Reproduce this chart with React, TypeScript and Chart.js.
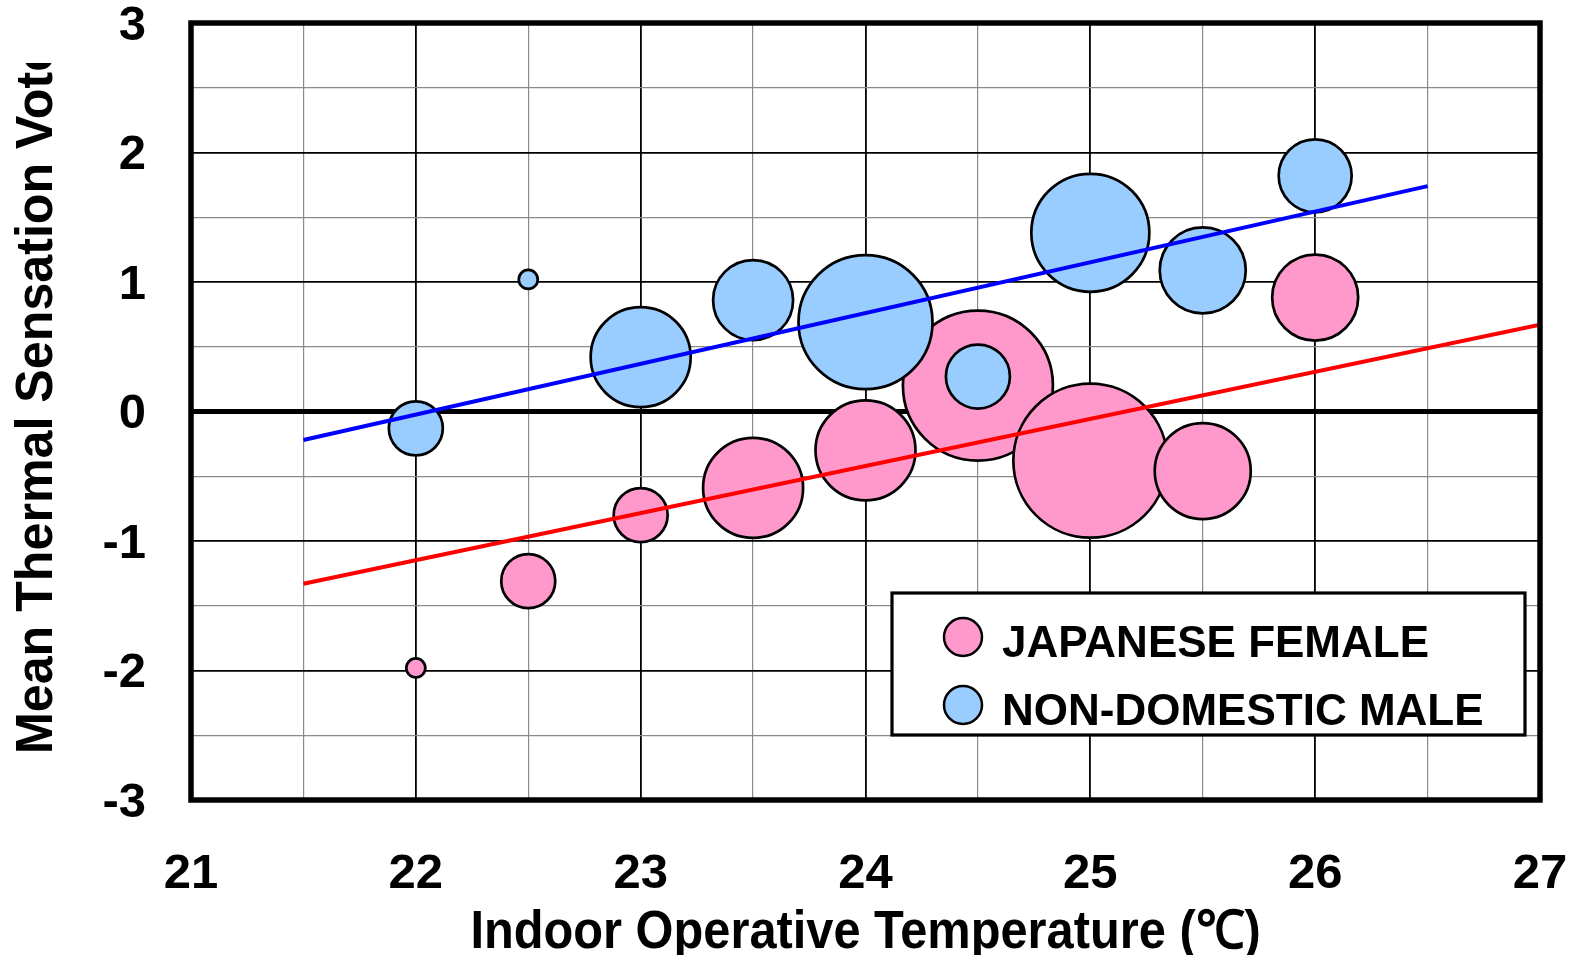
import React, { useEffect, useRef } from 'react';
import { Chart, registerables } from 'chart.js';

Chart.register(...registerables);

// ---- data ----
const temps = [22, 22.5, 23, 23.5, 24, 24.5, 25, 25.5, 26];
const femaleVote = [-1.98, -1.31, -0.8, -0.59, -0.3, 0.2, -0.38, -0.46, 0.88];
const femaleBubble = [9.5, 27, 27, 50, 50, 75, 77, 48, 43];
const maleVote = [-0.13, 1.02, 0.42, 0.86, 0.69, 0.27, 1.38, 1.09, 1.82];
const maleBubble = [27, 9.5, 50, 40, 67, 32, 59, 43, 36.5];

const femaleFitX = [21.5, 27];
const femaleFitY = [-1.33, 0.67];
const maleFitX = [21.5, 26.5];
const maleFitY = [-0.22, 1.74];

const xTickValues = [21, 22, 23, 24, 25, 26, 27];
const xTickLabels = ['21', '22', '23', '24', '25', '26', '27'];
const yTickValues = [-3, -2, -1, 0, 1, 2, 3];
const yTickLabels = ['-3', '-2', '-1', '0', '1', '2', '3'];

const seriesLabels = ['JAPANESE FEMALE', 'NON-DOMESTIC MALE'];
const xTitle = 'Indoor Operative Temperature (\u2103)';
const yTitle = 'Mean Thermal Sensation Vote';

const FONT = '"Liberation Sans", Arial, Helvetica, sans-serif';
const PINK = '#FF99CC';
const BLUE = '#99CCFF';

const gridColor = (ctx: any) =>
  ctx.tick && Number.isInteger(ctx.tick.value) ? '#000000' : '#8a8a8a';

const zeroScalePadding = (scale: any) => {
  scale.paddingLeft = 0;
  scale.paddingRight = 0;
  scale.paddingTop = 0;
  scale.paddingBottom = 0;
};

const decorPlugin = {
  id: 'decor',
  afterDraw(chart: any) {
    const ctx = chart.ctx as CanvasRenderingContext2D;
    const a = chart.chartArea;
    ctx.save();
    // frame
    ctx.strokeStyle = '#000';
    ctx.lineWidth = 5.5;
    ctx.lineJoin = 'miter';
    ctx.strokeRect(a.left, a.top, a.right - a.left, a.bottom - a.top);

    // x title
    ctx.fillStyle = '#000';
    ctx.save();
    ctx.font = `bold 53px ${FONT}`;
    ctx.textAlign = 'center';
    ctx.textBaseline = 'alphabetic';
    ctx.translate((a.left + a.right) / 2, 948);
    ctx.scale(0.92, 1);
    ctx.fillText(xTitle, 0, 0);
    ctx.restore();

    // y title (clipped at top like the original)
    ctx.save();
    ctx.beginPath();
    ctx.rect(0, 63, a.left - 20, 900);
    ctx.clip();
    ctx.font = `bold 52px ${FONT}`;
    ctx.textAlign = 'left';
    ctx.textBaseline = 'alphabetic';
    ctx.translate(52, 754);
    ctx.rotate(-Math.PI / 2);
    ctx.scale(0.965, 1);
    ctx.fillText(yTitle, 0, 0);
    ctx.restore();

    // legend box
    const bx = 892, by = 593, bw = 1525 - 892, bh = 735 - 593;
    ctx.fillStyle = '#fff';
    ctx.fillRect(bx, by, bw, bh);
    ctx.lineWidth = 3.2;
    ctx.strokeStyle = '#000';
    ctx.strokeRect(bx, by, bw, bh);
    const items = chart.data.datasets.slice(0, 2);
    const rowsY = [637, 705];
    items.forEach((ds: any, i: number) => {
      const cy = rowsY[i];
      ctx.beginPath();
      ctx.arc(963, cy, 19, 0, Math.PI * 2);
      ctx.fillStyle = ds.backgroundColor;
      ctx.fill();
      ctx.lineWidth = 2.5;
      ctx.strokeStyle = '#000';
      ctx.stroke();
      ctx.fillStyle = '#000';
      ctx.font = `bold 44px ${FONT}`;
      ctx.textAlign = 'left';
      ctx.textBaseline = 'alphabetic';
      ctx.fillText(ds.label, 1002, cy + 20);
    });
    ctx.restore();
  },
};

export default function App() {
  const ref = useRef<HTMLCanvasElement | null>(null);

  useEffect(() => {
    if (!ref.current) return;
    const chart = new Chart(ref.current, {
      type: 'bubble',
      data: {
        datasets: [
          {
            type: 'bubble',
            label: seriesLabels[0],
            data: temps.map((x, i) => ({ x, y: femaleVote[i], r: femaleBubble[i] })),
            backgroundColor: PINK,
            borderColor: '#000',
            borderWidth: 2.7,
            order: 3,
          } as any,
          {
            type: 'bubble',
            label: seriesLabels[1],
            data: temps.map((x, i) => ({ x, y: maleVote[i], r: maleBubble[i] })),
            backgroundColor: BLUE,
            borderColor: '#000',
            borderWidth: 2.7,
            order: 2,
          } as any,
          {
            type: 'line',
            label: 'female fit',
            data: femaleFitX.map((x, i) => ({ x, y: femaleFitY[i] })),
            borderColor: '#FF0000',
            borderWidth: 4,
            pointRadius: 0,
            fill: false,
            order: 1,
          } as any,
          {
            type: 'line',
            label: 'male fit',
            data: maleFitX.map((x, i) => ({ x, y: maleFitY[i] })),
            borderColor: '#0000FF',
            borderWidth: 4,
            pointRadius: 0,
            fill: false,
            order: 0,
          } as any,
        ],
      },
      options: {
        animation: false,
        responsive: false,
        events: [],
        layout: { autoPadding: false, padding: { top: 23, right: 37, left: 0, bottom: 0 } },
        plugins: {
          legend: { display: false },
          tooltip: { enabled: false },
          title: { display: false },
        },
        scales: {
          x: {
            type: 'linear',
            min: 21,
            max: 27,
            border: { display: false },
            grid: {
              drawTicks: false,
              color: gridColor,
              lineWidth: (ctx: any) =>
                ctx.tick && Number.isInteger(ctx.tick.value) ? 1.8 : 1.2,
            },
            ticks: {
              stepSize: 0.5,
              autoSkip: false,
              maxRotation: 0,
              padding: 50,
              color: '#000',
              font: { family: FONT, size: 49, weight: 'bold', lineHeight: 1 },
              callback: (v: any) => {
                const idx = xTickValues.indexOf(Number(v));
                return idx >= 0 ? xTickLabels[idx] : '';
              },
            },
            afterFit: (scale: any) => {
              scale.height = 155;
              zeroScalePadding(scale);
            },
          },
          y: {
            type: 'linear',
            min: -3,
            max: 3,
            border: { display: false },
            grid: {
              drawTicks: false,
              color: gridColor,
              lineWidth: (ctx: any) => {
                if (!ctx.tick) return 1.2;
                if (ctx.tick.value === 0) return 5;
                return Number.isInteger(ctx.tick.value) ? 1.8 : 1.2;
              },
            },
            ticks: {
              stepSize: 0.5,
              autoSkip: false,
              padding: 45,
              labelOffset: 3,
              color: '#000',
              font: { family: FONT, size: 49, weight: 'bold', lineHeight: 1 },
              callback: (v: any) => {
                const idx = yTickValues.indexOf(Number(v));
                return idx >= 0 ? yTickLabels[idx] : '';
              },
            },
            afterFit: (scale: any) => {
              scale.width = 191;
              zeroScalePadding(scale);
            },
          },
        },
      } as any,
      plugins: [decorPlugin],
    });
    return () => chart.destroy();
  }, []);

  return (
    <div style={{ position: 'fixed', left: 0, top: 0, width: 1577, height: 955, background: '#fff' }}>
      <canvas ref={ref} width={1577} height={955} style={{ display: 'block' }} />
    </div>
  );
}
